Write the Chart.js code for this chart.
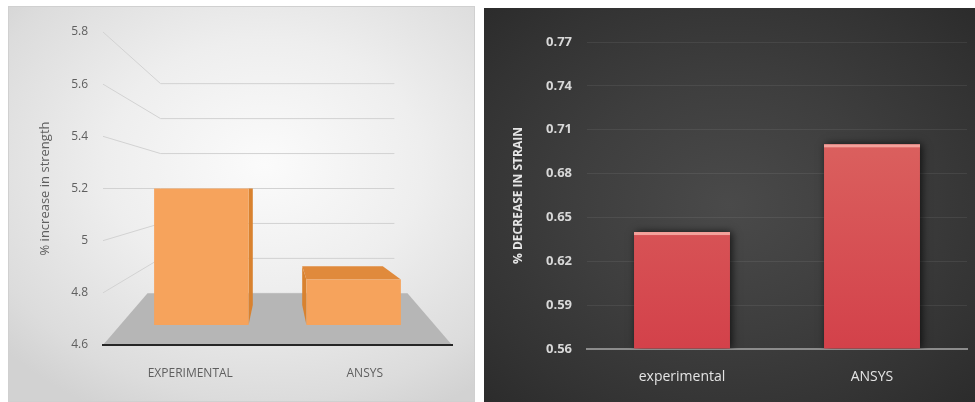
<!DOCTYPE html>
<html>
<head>
<meta charset="utf-8">
<script src="https://cdn.jsdelivr.net/npm/chart.js"></script>
<style>
    html, body { margin: 0; padding: 0; background: #ffffff; }
    #pagina { position: relative; width: 975px; height: 402px; overflow: hidden; background: #ffffff; }
    .panel { position: absolute; }
    .panel canvas { position: absolute; left: 0; top: 0; }
    #panelResistencia {
        left: 8px; top: 6px; width: 467px; height: 396px;
        background: radial-gradient(ellipse 75% 70% at 55% 40%, #fbfbfb 0%, #eeeeee 45%, #dcdcdc 85%, #d2d2d2 100%);
        box-shadow: inset 0 0 0 1px #d0d0d0;
    }
    #panelDeformacion {
        left: 484px; top: 8px; width: 491px; height: 394px;
        background: radial-gradient(ellipse 70% 70% at 50% 50%, #4a4a4a 0%, #3e3e3e 45%, #333333 80%, #2c2c2c 100%);
    }
</style>
</head>
<body>
<div id="pagina">
    <div class="panel" id="panelResistencia"><canvas id="graficoResistencia" width="467" height="396"></canvas></div>
    <div class="panel" id="panelDeformacion"><canvas id="graficoDeformacion" width="491" height="394"></canvas></div>
</div>
<script>
// datos
const categoriasResistencia = ["EXPERIMENTAL", "ANSYS"];
const aumentoResistencia = [5.2, 4.8];
const escalaResistencia = [4.6, 5.8, 0.2]; // min, max, paso

const categoriasDeformacion = ["experimental", "ANSYS"];
const disminucionDeformacion = [0.64, 0.70];
const escalaDeformacion = [0.56, 0.77, 0.03]; // min, max, paso

// profundidades de la vista 3D (1 = plano frontal)
const K_PARED = 0.67;
const K_PISO_X = 0.745;
const K_FRENTE = 0.873;
const K_FONDO = 0.745;

const NARANJA = "#f6a35c";
const NARANJA_LADO = "#d9822f";
const NARANJA_TAPA = "#e08a3c";

function proyectar(area, x, y, kx, ky) {
    const cx = (area.left + area.right) / 2;
    const cy = (area.top + area.bottom) / 2;
    return [cx + (x - cx) * kx, cy + (y - cy) * (ky === undefined ? kx : ky)];
}

function cuadrilatero(ctx, pts) {
    ctx.beginPath();
    ctx.moveTo(pts[0][0], pts[0][1]);
    pts.slice(1).forEach(p => ctx.lineTo(p[0], p[1]));
    ctx.closePath();
    ctx.fill();
}

const escena3D = {
    id: "escena3D",
    beforeDraw(chart) {
        const { ctx, chartArea: a, scales: { y } } = chart;
        ctx.save();
        // lineas de division en pared lateral y pared del fondo
        ctx.strokeStyle = "#d2d2d2";
        ctx.lineWidth = 1;
        y.ticks.forEach(t => {
            const py = y.getPixelForValue(t.value);
            const p1 = proyectar(a, a.left, py, K_PARED);
            const p2 = proyectar(a, a.right, py, K_PARED);
            ctx.beginPath();
            ctx.moveTo(a.left, py);
            ctx.lineTo(p1[0], p1[1]);
            ctx.lineTo(p2[0], p2[1]);
            ctx.stroke();
        });
        // piso
        const base = y.getPixelForValue(y.min);
        ctx.fillStyle = "#b6b6b6";
        cuadrilatero(ctx, [
            [a.left, base], [a.right, base],
            proyectar(a, a.right, base, K_PISO_X, K_PARED),
            proyectar(a, a.left, base, K_PISO_X, K_PARED)
        ]);
        ctx.restore();
    },
    beforeDatasetsDraw(chart) {
        const { ctx, chartArea: a } = chart;
        const cx = (a.left + a.right) / 2;
        const cy = (a.top + a.bottom) / 2;
        ctx.save();
        chart.getDatasetMeta(0).data.forEach(barra => {
            const { x, y, base, width } = barra.getProps(["x", "y", "base", "width"], true);
            const iz = x - width / 2;
            const de = x + width / 2;
            const F = (px, py) => proyectar(a, px, py, K_FRENTE);
            const B = (px, py) => proyectar(a, px, py, K_FONDO);
            const lado = de < cx ? de : (iz > cx ? iz : null);
            if (lado !== null) {
                ctx.fillStyle = NARANJA_LADO;
                cuadrilatero(ctx, [F(lado, y), F(lado, base), B(lado, base), B(lado, y)]);
            }
            if (y > cy + 1) {
                ctx.fillStyle = NARANJA_TAPA;
                cuadrilatero(ctx, [F(iz, y), F(de, y), B(de, y), B(iz, y)]);
            }
        });
        ctx.restore();
    },
    beforeDatasetDraw(chart) {
        const { ctx, chartArea: a } = chart;
        const cx = (a.left + a.right) / 2;
        const cy = (a.top + a.bottom) / 2;
        ctx.save();
        ctx.translate(cx, cy);
        ctx.scale(K_FRENTE, K_FRENTE);
        ctx.translate(-cx, -cy);
    },
    afterDatasetDraw(chart) {
        chart.ctx.restore();
    }
};

// sombra alrededor de las barras y brillo en el borde superior
const sombraBarras = {
    id: "sombraBarras",
    beforeDatasetsDraw(chart) {
        const ctx = chart.ctx;
        ctx.save();
        ctx.shadowColor = "rgba(0,0,0,0.7)";
        ctx.shadowBlur = 8;
        ctx.shadowOffsetX = 2;
        ctx.shadowOffsetY = 0;
    },
    afterDatasetsDraw(chart) {
        const ctx = chart.ctx;
        ctx.restore();
        ctx.save();
        ctx.fillStyle = "#f4a29c";
        chart.getDatasetMeta(0).data.forEach(barra => {
            const { x, y, width } = barra.getProps(["x", "y", "width"], true);
            ctx.fillRect(x - width / 2, y, width, 3);
        });
        ctx.restore();
    }
};

const fuente = "'Open Sans', 'Liberation Sans', sans-serif";

new Chart(document.getElementById("graficoResistencia").getContext("2d"), {
    type: "bar",
    data: {
        labels: categoriasResistencia,
        datasets: [{
            label: "% increase in strength",
            data: aumentoResistencia,
            base: escalaResistencia[0],
            backgroundColor: NARANJA,
            borderWidth: 0,
            barPercentage: 0.62,
            categoryPercentage: 1
        }]
    },
    options: {
        responsive: false,
        animation: false,
        layout: { padding: { left: 29, right: 23, top: 26, bottom: 0 } },
        plugins: { legend: { display: false }, tooltip: { enabled: false } },
        scales: {
            x: {
                grid: { display: false, drawTicks: false },
                border: { display: true, color: "#262626", width: 2 },
                ticks: { color: "#5f5f5f", font: { family: fuente, size: 12 }, padding: 21 },
                afterFit(escala) { escala.height = 57; }
            },
            y: {
                min: escalaResistencia[0],
                max: escalaResistencia[1],
                grid: { display: false, drawTicks: false },
                border: { display: false },
                ticks: {
                    stepSize: escalaResistencia[2],
                    color: "#5f5f5f",
                    font: { family: fuente, size: 12 },
                    padding: 15,
                    callback: v => parseFloat(v.toFixed(1)).toString()
                },
                title: {
                    display: true,
                    text: "% increase in strength",
                    color: "#5f5f5f",
                    font: { family: fuente, size: 13 },
                    padding: { top: 0, bottom: 0 }
                },
                afterFit(escala) { escala.width = 66; }
            }
        }
    },
    plugins: [escena3D]
});

new Chart(document.getElementById("graficoDeformacion").getContext("2d"), {
    type: "bar",
    data: {
        labels: categoriasDeformacion,
        datasets: [{
            label: "% DECREASE IN STRAIN",
            data: disminucionDeformacion,
            base: escalaDeformacion[0],
            backgroundColor: ctx => {
                const area = ctx.chart.chartArea;
                if (!area) return "#d65555";
                const g = ctx.chart.ctx.createLinearGradient(0, area.top, 0, area.bottom);
                g.addColorStop(0, "#de6f68");
                g.addColorStop(1, "#d3414a");
                return g;
            },
            borderWidth: 0,
            barPercentage: 0.505,
            categoryPercentage: 1
        }]
    },
    options: {
        responsive: false,
        animation: false,
        layout: { padding: { left: 20, right: 8, top: 34, bottom: 0 } },
        plugins: { legend: { display: false }, tooltip: { enabled: false } },
        scales: {
            x: {
                grid: { display: false, drawTicks: false },
                border: { display: true, color: "#8c8c8c", width: 2 },
                ticks: { color: "#e4e4e4", font: { family: fuente, size: 14 }, padding: 20 },
                afterFit(escala) { escala.height = 53; }
            },
            y: {
                min: escalaDeformacion[0],
                max: escalaDeformacion[1],
                grid: { color: "rgba(255,255,255,0.07)", drawTicks: false },
                border: { display: false },
                ticks: {
                    stepSize: escalaDeformacion[2],
                    color: "#d8d8d8",
                    font: { family: fuente, size: 13, weight: "bold" },
                    padding: 15,
                    callback: v => parseFloat(v.toFixed(2)).toString()
                },
                title: {
                    display: true,
                    text: "% DECREASE IN STRAIN",
                    color: "#e6e6e6",
                    font: { family: fuente, size: 12, weight: "bold" },
                    padding: { top: 7, bottom: 0 }
                },
                afterFit(escala) { escala.width = 83; }
            }
        }
    },
    plugins: [sombraBarras]
});
</script>
</body>
</html>
